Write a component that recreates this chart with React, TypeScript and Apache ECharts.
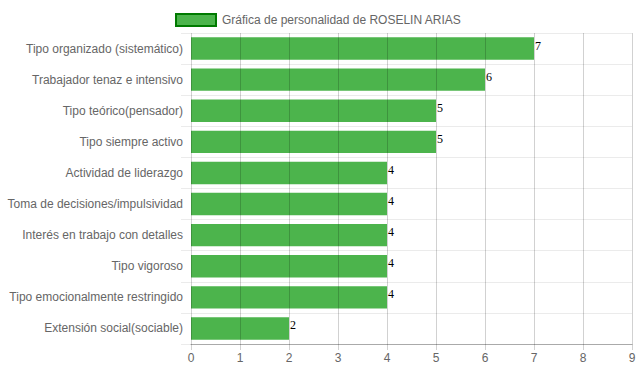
import React, { useEffect, useRef } from "react";
import * as echarts from "echarts";

const categories = [
  "Tipo organizado (sistemático)",
  "Trabajador tenaz e intensivo",
  "Tipo teórico(pensador)",
  "Tipo siempre activo",
  "Actividad de liderazgo",
  "Toma de decisiones/impulsividad",
  "Interés en trabajo con detalles",
  "Tipo vigoroso",
  "Tipo emocionalmente restringido",
  "Extensión social(sociable)",
];
const values = [7, 6, 5, 5, 4, 4, 4, 4, 4, 2];
const seriesName = "Gráfica de personalidad de ROSELIN ARIAS";
const xTicks = [0, 1, 2, 3, 4, 5, 6, 7, 8, 9];

export default function App() {
  const ref = useRef<HTMLDivElement>(null);
  useEffect(() => {
    if (!ref.current) return;
    const chart = echarts.init(ref.current, null, { renderer: "svg" });
    const font = "'Liberation Sans', Arial, Helvetica, sans-serif";
    const gridColor = "rgba(0,0,0,0.18)";
    chart.setOption({
      animation: false,
      textStyle: { fontFamily: font },
      legend: {
        data: [seriesName],
        top: 8,
        left: 170,
        itemWidth: 40,
        itemHeight: 12,
        itemGap: 6,
        textStyle: { color: "#666", fontSize: 12, fontFamily: font, padding: [0, 0, 0, 1] },
        icon: "rect",
        itemStyle: { color: "#4cb44c", borderColor: "#007a00", borderWidth: 2 },
      },
      grid: { left: 191, right: 7, top: 33, bottom: 28, containLabel: false },
      xAxis: {
        type: "value",
        z: 3,
        min: 0,
        max: xTicks[xTicks.length - 1],
        interval: 1,
        axisLine: { show: true, lineStyle: { color: "#aaa" } },
        axisTick: { show: true, length: 6, lineStyle: { color: gridColor } },
        axisLabel: { color: "#666", fontSize: 12, fontFamily: font, margin: 8 },
        splitLine: { show: true, lineStyle: { color: gridColor } },
      },
      yAxis: {
        type: "category",
        data: categories,
        inverse: true,
        axisLine: { show: false },
        axisTick: { show: true, length: 10, lineStyle: { color: "rgba(0,0,0,0.08)" } },
        axisLabel: { color: "#666", fontSize: 12, fontFamily: font, margin: 8 },
        splitLine: { show: true, lineStyle: { color: "rgba(0,0,0,0.08)" } },
      },
      series: [
        {
          name: seriesName,
          type: "bar",
          z: 1,
          data: values,
          barCategoryGap: "28%",
          itemStyle: {
            color: "rgba(0,148,0,0.7)",
          },
          label: {
            show: true,
            position: "right",
            distance: 1,
            offset: [0, -3],
            color: "#000",
            fontSize: 12,
            fontFamily: "'Liberation Serif', 'Times New Roman', serif",
          },
        },
      ],
    });
    return () => chart.dispose();
  }, []);
  return <div ref={ref} style={{ width: 639, height: 372, position: "absolute", left: 0, top: 0 }} />;
}
